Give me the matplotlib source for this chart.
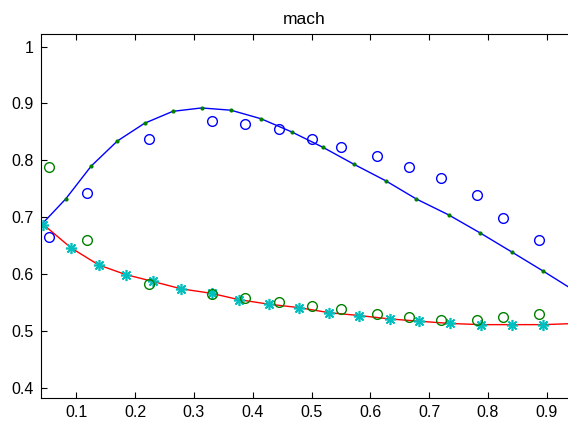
import matplotlib
matplotlib.use("Agg")
import matplotlib.pyplot as plt

# upper branch: blue line with green dots
upper_x = [0.040, 0.082, 0.1255, 0.170, 0.216, 0.264, 0.313, 0.363, 0.414, 0.466,
           0.519, 0.572, 0.626, 0.678, 0.733, 0.787, 0.840, 0.894, 0.948]
upper_y = [0.686, 0.732, 0.790, 0.834, 0.865, 0.886, 0.892, 0.888, 0.873, 0.850,
           0.823, 0.793, 0.764, 0.732, 0.704, 0.672, 0.639, 0.605, 0.570]

# lower branch: red line with cyan asterisks
lower_x = [0.044, 0.091, 0.138, 0.184, 0.230, 0.278, 0.330, 0.376, 0.427, 0.478,
           0.530, 0.581, 0.633, 0.683, 0.736, 0.788, 0.841, 0.894]
lower_y = [0.687, 0.646, 0.616, 0.599, 0.587, 0.574, 0.566, 0.555, 0.547, 0.541,
           0.532, 0.527, 0.521, 0.517, 0.513, 0.511, 0.511, 0.511]
lower_line_x = lower_x + [0.948]
lower_line_y = lower_y + [0.513]

# measured points (circles)
circ_x = [0.053, 0.1175, 0.223, 0.331, 0.386, 0.445, 0.501, 0.550, 0.611,
          0.665, 0.720, 0.781, 0.825, 0.886]
blue_circ_y = [0.665, 0.743, 0.838, 0.869, 0.863, 0.855, 0.837, 0.823, 0.808,
               0.789, 0.768, 0.739, 0.699, 0.659]
green_circ_y = [0.789, 0.659, 0.583, 0.565, 0.558, 0.550, 0.544, 0.539, 0.529,
                0.525, 0.519, 0.519, 0.525, 0.529]

plt.rcParams['font.family'] = ['Liberation Sans', 'DejaVu Sans']

fig = plt.figure(figsize=(5.68, 4.21), dpi=100)
ax = fig.add_axes([41 / 568, 1 - 398 / 421, 1 - 41 / 568, (398 - 34) / 421])

ax.plot(upper_x, upper_y, color='b', lw=1)
ax.plot(upper_x, upper_y, ls='none', marker='.', color='g', ms=4)
ax.plot(lower_line_x, lower_line_y, color='r', lw=1)
ax.plot(lower_x, lower_y, ls='none', marker=(8, 2, 0), color='c', ms=8, mew=1.2)
ax.plot(circ_x, blue_circ_y, ls='none', marker='o', mfc='none', mec='b', ms=7, mew=1)
ax.plot(circ_x, green_circ_y, ls='none', marker='o', mfc='none', mec='g', ms=7, mew=1)

ax.set_xlim(0.04, 0.936)
ax.set_ylim(0.382, 1.022)
ax.set_xticks([0.1, 0.2, 0.3, 0.4, 0.5, 0.6, 0.7, 0.8, 0.9])
ax.set_yticks([0.4, 0.5, 0.6, 0.7, 0.8, 0.9, 1.0])
ax.set_yticklabels(['0.4', '0.5', '0.6', '0.7', '0.8', '0.9', '1'])
ax.tick_params(direction='in', length=4, width=0.8, top=True, right=False,
               labelsize=11.5, pad=5)
ax.spines['right'].set_visible(False)
ax.set_title('mach', fontsize=12.5, pad=7)

fig.savefig('out.png', dpi=100)
